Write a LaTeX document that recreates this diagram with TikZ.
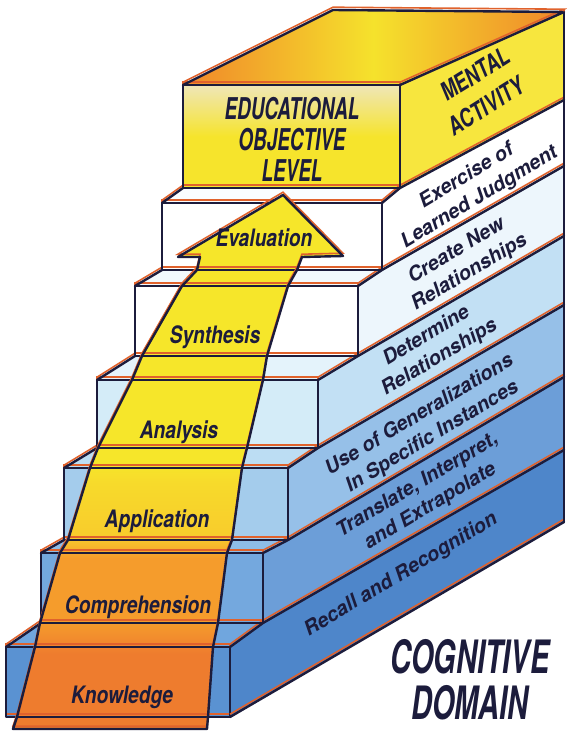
\documentclass[tikz,border=0pt]{standalone}
\usepackage{fontspec}
\setmainfont{TeX Gyre Heros}
\newfontfamily\headfont[FakeStretch=0.63]{TeX Gyre Heros}
\newfontfamily\sidefont[FakeStretch=0.75]{TeX Gyre Heros}
\newfontfamily\stepfont[FakeStretch=0.8]{TeX Gyre Heros}
\usepackage{tikz}

\definecolor{navy}{HTML}{1C1C3C}
\definecolor{edgeorange}{HTML}{E0622C}
\definecolor{front1}{HTML}{5A92D2}
\definecolor{front2}{HTML}{74A8DE}
\definecolor{front3}{HTML}{A4CCEC}
\definecolor{front4}{HTML}{D4ECF8}
\definecolor{front5}{HTML}{FFFFFF}
\definecolor{front6}{HTML}{FFFFFF}
\definecolor{tread1}{HTML}{70A6DE}
\definecolor{tread2}{HTML}{8EBDE8}
\definecolor{tread3}{HTML}{BCDDF3}
\definecolor{tread4}{HTML}{E4F3FB}
\definecolor{tread5}{HTML}{F2F9FD}
\definecolor{tread6}{HTML}{FAFDFF}
\definecolor{side1}{HTML}{4E86CA}
\definecolor{side2}{HTML}{6C9ED8}
\definecolor{side3}{HTML}{96C0E8}
\definecolor{side4}{HTML}{C2E0F4}
\definecolor{side5}{HTML}{EDF6FC}
\definecolor{side6}{HTML}{FFFFFF}
\definecolor{boxyellow}{HTML}{F6E42C}
\definecolor{boxcream}{HTML}{EFE6B8}
\definecolor{boxside}{HTML}{F7E63E}
\definecolor{lidorange}{HTML}{F0862A}
\definecolor{lidyellow}{HTML}{F5E22C}
\definecolor{arrowyellow}{HTML}{F6E62A}
\definecolor{arrowlemon}{HTML}{F7DA2B}
\definecolor{arrowgold}{HTML}{F8CC2C}
\definecolor{arroworange}{HTML}{F59C2C}
\definecolor{arrowred}{HTML}{EE7C2E}

\pgfdeclareverticalshading{arrowfill}{100bp}{color(0bp)=(arrowred); color(32bp)=(arrowred); color(35bp)=(arroworange); color(41bp)=(arroworange); color(43bp)=(arrowgold); color(48bp)=(arrowlemon); color(50bp)=(arrowyellow); color(100bp)=(arrowyellow)}

\def\arrowpts{17/717, 35/647, 40/623, 60/553, 68/540, 90/468, 98/448, 132/380, 142/356, 182/286, 197/270, 200/257, 178/257, 283/195, 343/256, 302/257, 297/270, 288/286, 267/356, 263/380, 247/448, 242/468, 232/540, 227/553, 218/623, 213/647, 208/717, 207/729}

\begin{document}
\begin{tikzpicture}[x=1pt, y=-1pt,
            stairline/.style={draw=navy, line width=2.4pt, line join=round, line cap=round,
                preaction={draw=edgeorange, line width=1.6pt, transform canvas={yshift=2.8pt}}},
            steplabel/.style={text=navy, font=\stepfont\bfseries\itshape\fontsize{24}{24}\selectfont},
            sidelabel/.style={text=navy, font=\bfseries\itshape\fontsize{20}{25}\selectfont, align=center, rotate=31},
            headlabel/.style={text=navy, font=\headfont\bfseries\itshape\fontsize{30}{31}\selectfont, align=center},
            activitylabel/.style={text=navy, font=\sidefont\bfseries\itshape\fontsize{25}{25}\selectfont, rotate=32}]
            \useasboundingbox (0,0) rectangle (567,731);

            \foreach \k/\l/\r/\t/\b in {1/6/230/647/717, 2/41/263/553/623, 3/64/288/468/540, 4/97/318/380/448, 5/135/358/286/356, 6/162/382/203/270, 7/183/400/85/188} {
                \coordinate (lt\k) at (\l,\t);
                \coordinate (rt\k) at (\r,\t);
                \coordinate (lb\k) at (\l,\b);
                \coordinate (rb\k) at (\r,\b);
            }
            \foreach \k/\y in {0/522, 1/450, 2/377, 3/305, 4/236, 5/166, 6/100, 7/12}
                \coordinate (e\k) at (564,\y);
            \coordinate (bk) at (333,10);

            \foreach \k in {1,...,6} {
                \pgfmathtruncatemacro\n{\k+1}
                \pgfmathtruncatemacro\p{\k-1}
                \fill[front\k] (lt\k) rectangle (rb\k);
                \fill[tread\k] (lt\k) -- (rt\k) -- (rb\n) -- (lb\n) -- cycle;
                \fill[side\k] (rb\k) -- (rt\k) -- (rb\n) -- (e\k) -- (e\p) -- cycle;
            }
            \shade[top color=boxcream, bottom color=boxyellow, middle color=boxyellow] (lt7) rectangle (rb7);
            \shade[left color=lidorange, right color=lidorange, middle color=lidyellow] (lt7) -- (rt7) -- (e7) -- (bk) -- cycle;
            \fill[boxside] (rb7) -- (rt7) -- (e7) -- (e6) -- cycle;

            \foreach \k in {1,...,6} {
                \pgfmathtruncatemacro\n{\k+1}
                \draw[stairline] (lt\k) rectangle (rb\k);
                \draw[stairline] (lt\k) -- (lb\n);
                \draw[stairline] (rt\k) -- (rb\n) -- (e\k);
            }
            \draw[stairline] (rb1) -- (e0);
            \draw[stairline] (lt7) rectangle (rb7);
            \draw[stairline] (lt7) -- (bk) -- (e7) -- (rt7);
            \draw[stairline] (e7) -- (e0);

            \shade[shading=arrowfill] (13,729) \foreach \x/\y in \arrowpts { -- (\x,\y) } -- cycle;
            \begin{scope}
                \clip (13,729) \foreach \x/\y in \arrowpts { -- (\x,\y) } -- cycle;
                \foreach \k in {1,...,5}
                    \draw[stairline] (lt\k) -- (rt\k) (lb\k) -- (rb\k);
                \draw[stairline] (lb6) -- (rb6);
            \end{scope}
            \draw[stairline] (13,729) \foreach \x/\y in \arrowpts { -- (\x,\y) } -- cycle;

            \node[steplabel] (know) at (122,697) {Knowledge};
            \node[steplabel] (comp) at (138,607) {Comprehension};
            \node[steplabel] (appl) at (157,521) {Application};
            \node[steplabel] (anal) at (179,432) {Analysis};
            \node[steplabel] (synt) at (215,337) {Synthesis};
            \node[steplabel] (eval) at (264,238) {Evaluation};

            \node[headlabel] (level) at (292,139) {EDUCATIONAL\\OBJECTIVE\\LEVEL};
            \node[activitylabel] (mental) at (475,74) {MENTAL};
            \node[activitylabel] (activity) at (486,106) {ACTIVITY};

            \node[sidelabel] (judge) at (473,187) {Exercise of\\Learned Judgment};
            \node[sidelabel] (create) at (463,262) {Create New\\Relationships};
            \node[sidelabel] (determ) at (433,347) {Determine\\Relationships};
            \node[sidelabel] (general) at (426,426) {Use of Generalizations\\In Specific Instances};
            \node[sidelabel] (transl) at (424,496) {Translate, Interpret,\\and Extrapolate};
            \node[sidelabel] (recall) at (401,575) {Recall and Recognition};

            \node[headlabel, font=\headfont\bfseries\itshape\fontsize{46}{46}\selectfont] (domain) at (470,680) {COGNITIVE\\DOMAIN};
        \end{tikzpicture}
\end{document}
